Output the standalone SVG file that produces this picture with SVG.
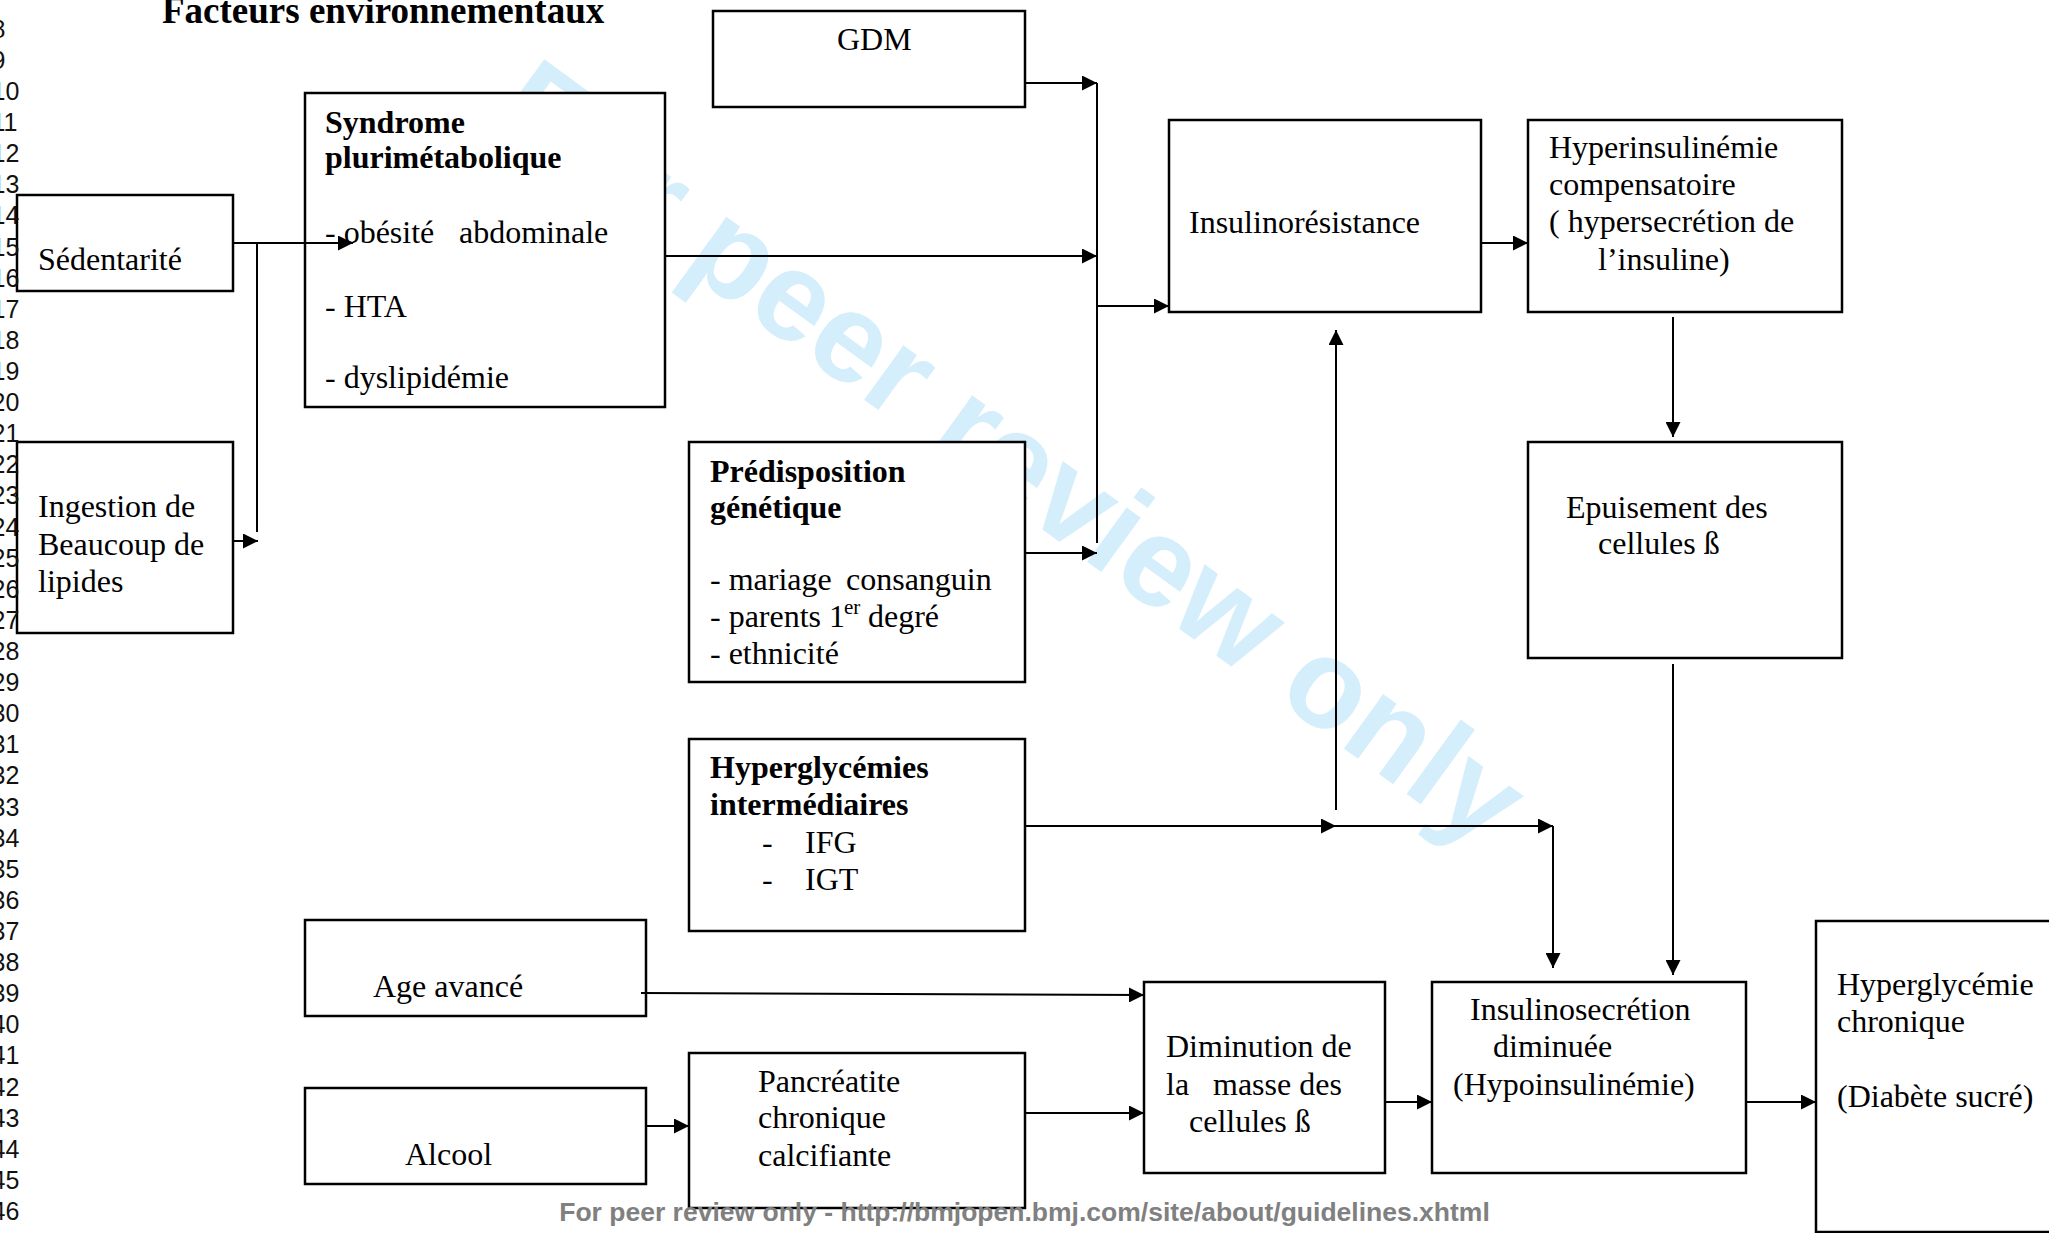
<svg xmlns="http://www.w3.org/2000/svg" width="2049" height="1233" viewBox="0 0 2049 1233">
<defs>
<style>
.box{fill:#fff;stroke:#000;stroke-width:2.5}
.t{font-family:"Liberation Serif","Times New Roman",serif;font-size:32px;fill:#000}
.b{font-weight:bold}
.sup{font-size:21px}
.c{stroke:#000;stroke-width:2;fill:none}
.a{marker-end:url(#ah)}
.ln{font-family:"Liberation Sans",Arial,sans-serif;font-size:25px;fill:#111}
.wm{font-family:"Liberation Sans",Arial,sans-serif;font-weight:bold;font-size:127px;fill:#d5eefb}
.ft{font-family:"Liberation Sans",Arial,sans-serif;font-weight:bold;font-size:26.5px;fill:#808080}
</style>
<marker id="ah" markerUnits="userSpaceOnUse" markerWidth="15" markerHeight="15" refX="15" refY="7.5" orient="auto">
<path d="M0,0 L15,7.5 L0,15 Z" fill="#000"/>
</marker>
</defs>
<rect width="2049" height="1233" fill="#fff"/>
<text class="wm" transform="translate(486,125) rotate(36)">For peer review only</text>

<g id="title"><text class="t b" x="162" y="23" style="font-size:37px">Facteurs environnementaux</text></g>

<g id="n-sedentarite"><rect class="box" x="17" y="195" width="216" height="96"/><text class="t" x="38" y="270">Sédentarité</text></g>
<g id="n-ingestion"><rect class="box" x="17" y="442" width="216" height="191"/>
<text class="t" x="38" y="517">Ingestion de</text><text class="t" x="38" y="555">Beaucoup de</text><text class="t" x="38" y="592">lipides</text></g>
<g id="n-syndrome"><rect class="box" x="305" y="93" width="360" height="314"/>
<text class="t b" x="325" y="133">Syndrome</text><text class="t b" x="325" y="168">plurimétabolique</text>
<text class="t" y="243"><tspan x="325">- obésité</tspan><tspan x="459">abdominale</tspan></text>
<text class="t" x="325" y="317">- HTA</text><text class="t" x="325" y="388">- dyslipidémie</text></g>
<g id="n-gdm"><rect class="box" x="713" y="11" width="312" height="96"/><text class="t" x="837" y="50">GDM</text></g>
<g id="n-predisposition"><rect class="box" x="689" y="442" width="336" height="240"/>
<text class="t b" x="710" y="482">Prédisposition</text><text class="t b" x="710" y="518">génétique</text>
<text class="t" y="590"><tspan x="710">- mariage</tspan><tspan x="846">consanguin</tspan></text>
<text class="t" y="627"><tspan x="710">- parents 1</tspan><tspan class="sup" x="844" y="614">er</tspan><tspan x="868" y="627">degré</tspan></text>
<text class="t" x="710" y="664">- ethnicité</text></g>
<g id="n-hyperglycemies"><rect class="box" x="689" y="739" width="336" height="192"/>
<text class="t b" x="710" y="778">Hyperglycémies</text><text class="t b" x="710" y="815">intermédiaires</text>
<text class="t" y="853"><tspan x="762">-</tspan><tspan x="805">IFG</tspan></text>
<text class="t" y="890"><tspan x="762">-</tspan><tspan x="805">IGT</tspan></text></g>
<g id="n-age"><rect class="box" x="305" y="920" width="341" height="96"/><text class="t" x="373" y="997">Age avancé</text></g>
<g id="n-alcool"><rect class="box" x="305" y="1088" width="341" height="96"/><text class="t" x="405" y="1165">Alcool</text></g>
<g id="n-pancreatite"><rect class="box" x="689" y="1053" width="336" height="155"/>
<text class="t" x="758" y="1092">Pancréatite</text><text class="t" x="758" y="1128">chronique</text><text class="t" x="758" y="1166">calcifiante</text></g>
<g id="n-insulinoresistance"><rect class="box" x="1169" y="120" width="312" height="192"/><text class="t" x="1189" y="233">Insulinorésistance</text></g>
<g id="n-hyperinsulinemie"><rect class="box" x="1528" y="120" width="314" height="192"/>
<text class="t" x="1549" y="158">Hyperinsulinémie</text><text class="t" x="1549" y="195">compensatoire</text>
<text class="t" x="1549" y="232">( hypersecrétion de</text><text class="t" x="1598" y="270">l’insuline)</text></g>
<g id="n-epuisement"><rect class="box" x="1528" y="442" width="314" height="216"/>
<text class="t" x="1566" y="518">Epuisement des</text><text class="t" x="1598" y="554">cellules ß</text></g>
<g id="n-diminution"><rect class="box" x="1144" y="982" width="241" height="191"/>
<text class="t" x="1166" y="1057">Diminution de</text>
<text class="t" y="1095"><tspan x="1166">la</tspan><tspan x="1213">masse des</tspan></text>
<text class="t" x="1189" y="1132">cellules ß</text></g>
<g id="n-insulinosecretion"><rect class="box" x="1432" y="982" width="314" height="191"/>
<text class="t" x="1470" y="1020">Insulinosecrétion</text><text class="t" x="1493" y="1057">diminuée</text><text class="t" x="1453" y="1095">(Hypoinsulinémie)</text></g>
<g id="n-hyperglycemie-chronique"><rect class="box" x="1816" y="921" width="300" height="311"/>
<text class="t" x="1837" y="995">Hyperglycémie</text><text class="t" x="1837" y="1032">chronique</text><text class="t" x="1837" y="1107">(Diabète sucré)</text></g>

<g id="connectors">
<line class="c a" x1="233" y1="243" x2="353" y2="243"/>
<line class="c" x1="257" y1="243" x2="257" y2="532"/>
<line class="c a" x1="233" y1="541" x2="258" y2="541"/>
<line class="c a" x1="1025" y1="83" x2="1097" y2="83"/>
<line class="c a" x1="665" y1="256" x2="1097" y2="256"/>
<line class="c a" x1="1025" y1="553" x2="1097" y2="553"/>
<line class="c" x1="1097" y1="83" x2="1097" y2="543"/>
<line class="c a" x1="1097" y1="306" x2="1169" y2="306"/>
<line class="c a" x1="1481" y1="243" x2="1528" y2="243"/>
<line class="c a" x1="1673" y1="317" x2="1673" y2="437"/>
<line class="c a" x1="1673" y1="664" x2="1673" y2="975"/>
<line class="c a" x1="1025" y1="826" x2="1336" y2="826"/>
<line class="c a" x1="1336" y1="826" x2="1553" y2="826"/>
<line class="c a" x1="1553" y1="826" x2="1553" y2="968"/>
<line class="c a" x1="1336" y1="810" x2="1336" y2="330"/>
<line class="c a" x1="641" y1="993" x2="1144" y2="995"/>
<line class="c a" x1="646" y1="1126" x2="689" y2="1126"/>
<line class="c a" x1="1025" y1="1113" x2="1144" y2="1113"/>
<line class="c a" x1="1385" y1="1102" x2="1432" y2="1102"/>
<line class="c a" x1="1746" y1="1102" x2="1816" y2="1102"/>
</g>

<g id="line-numbers">
<text class="ln" x="-8.5" y="37.8">8</text>
<text class="ln" x="-8.5" y="68.9">9</text>
<text class="ln" x="-8.5" y="100">10</text>
<text class="ln" x="-8.5" y="131.1">11</text>
<text class="ln" x="-8.5" y="162.2">12</text>
<text class="ln" x="-8.5" y="193.3">13</text>
<text class="ln" x="-8.5" y="224.4">14</text>
<text class="ln" x="-8.5" y="255.5">15</text>
<text class="ln" x="-8.5" y="286.7">16</text>
<text class="ln" x="-8.5" y="317.8">17</text>
<text class="ln" x="-8.5" y="348.9">18</text>
<text class="ln" x="-8.5" y="380">19</text>
<text class="ln" x="-8.5" y="411.1">20</text>
<text class="ln" x="-8.5" y="442.2">21</text>
<text class="ln" x="-8.5" y="473.3">22</text>
<text class="ln" x="-8.5" y="504.4">23</text>
<text class="ln" x="-8.5" y="535.5">24</text>
<text class="ln" x="-8.5" y="566.6">25</text>
<text class="ln" x="-8.5" y="597.8">26</text>
<text class="ln" x="-8.5" y="628.9">27</text>
<text class="ln" x="-8.5" y="660">28</text>
<text class="ln" x="-8.5" y="691.1">29</text>
<text class="ln" x="-8.5" y="722.2">30</text>
<text class="ln" x="-8.5" y="753.3">31</text>
<text class="ln" x="-8.5" y="784.4">32</text>
<text class="ln" x="-8.5" y="815.5">33</text>
<text class="ln" x="-8.5" y="846.6">34</text>
<text class="ln" x="-8.5" y="877.8">35</text>
<text class="ln" x="-8.5" y="908.9">36</text>
<text class="ln" x="-8.5" y="940">37</text>
<text class="ln" x="-8.5" y="971.1">38</text>
<text class="ln" x="-8.5" y="1002.2">39</text>
<text class="ln" x="-8.5" y="1033.3">40</text>
<text class="ln" x="-8.5" y="1064.4">41</text>
<text class="ln" x="-8.5" y="1095.5">42</text>
<text class="ln" x="-8.5" y="1126.6">43</text>
<text class="ln" x="-8.5" y="1157.8">44</text>
<text class="ln" x="-8.5" y="1188.9">45</text>
<text class="ln" x="-8.5" y="1220">46</text>
</g>

<text class="ft" x="1024.5" y="1221" text-anchor="middle">For peer review only - http://bmjopen.bmj.com/site/about/guidelines.xhtml</text>
</svg>
